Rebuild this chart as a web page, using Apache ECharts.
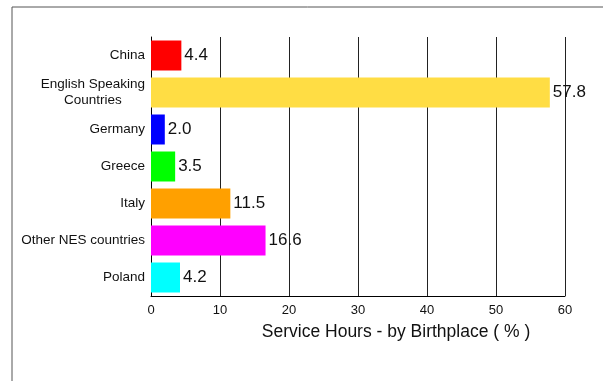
<!DOCTYPE html>
<html>

<head>
    <meta charset="utf-8" />
    <script src="https://cdn.jsdelivr.net/npm/echarts@6/dist/echarts.min.js"></script>
</head>

<body style="margin:0">
    <div id="main" style="width: 613px;height:381px;"></div>
    <script type="text/javascript">
        const categories = ['China', 'English Speaking\nCountries', 'Germany', 'Greece', 'Italy', 'Other NES countries', 'Poland'];
        const values = [4.4, 57.8, 2.0, 3.5, 11.5, 16.6, 4.2];
        const colors = ['#ff0000', '#ffdd44', '#0000ff', '#00ff00', '#ffa000', '#ff00ff', '#00ffff'];
        const xTicks = [0, 10, 20, 30, 40, 50, 60];

        const myChart = echarts.init(document.getElementById('main'), null, { renderer: 'canvas' });
        const font = 'Arial, "Liberation Sans", sans-serif';

        const option = {
            animation: false,
            backgroundColor: '#fff',
            textStyle: { fontFamily: font },
            grid: { left: 151, right: 48, top: 37, bottom: 85 },
            // outer frame (only top and left edge visible)
            graphic: [
                { type: 'line', shape: { x1: 12, y1: 7, x2: 603, y2: 7 }, style: { stroke: '#555', lineWidth: 1 } },
                { type: 'line', shape: { x1: 12, y1: 7, x2: 12, y2: 381 }, style: { stroke: '#555', lineWidth: 1 } }
            ],
            xAxis: {
                type: 'value',
                min: xTicks[0],
                max: xTicks[xTicks.length - 1],
                interval: 10,
                name: 'Service Hours - by Birthplace ( % )',
                nameLocation: 'middle',
                nameGap: 27,
                nameTextStyle: { fontSize: 17.5, color: '#111', padding: [0, 0, 0, 76] },
                axisLine: { show: true, lineStyle: { color: '#000' } },
                axisTick: { show: false },
                axisLabel: { fontSize: 13, color: '#111', margin: 8 },
                splitLine: { show: true, lineStyle: { color: '#222' } }
            },
            yAxis: {
                type: 'category',
                inverse: true,
                data: categories,
                axisLine: { show: true, lineStyle: { color: '#000' } },
                axisTick: { show: false },
                axisLabel: {
                    fontSize: 13.5,
                    color: '#111',
                    margin: 6,
                    formatter: function (v) {
                        return v.split('\n').map(function (s) { return '{c|' + s + '}'; }).join('\n');
                    },
                    rich: { c: { align: 'center', fontSize: 13.5, color: '#111', lineHeight: 16 } }
                }
            },
            series: [{
                type: 'bar',
                data: values.map(function (v, i) { return { value: v, itemStyle: { color: colors[i] } }; }),
                barWidth: 30,
                label: {
                    show: true,
                    position: 'right',
                    distance: 3,
                    fontSize: 17,
                    color: '#111',
                    formatter: function (p) { return p.value.toFixed(1); }
                }
            }]
        };

        myChart.setOption(option);
        window.addEventListener('resize', myChart.resize);
    </script>
</body>

</html>
